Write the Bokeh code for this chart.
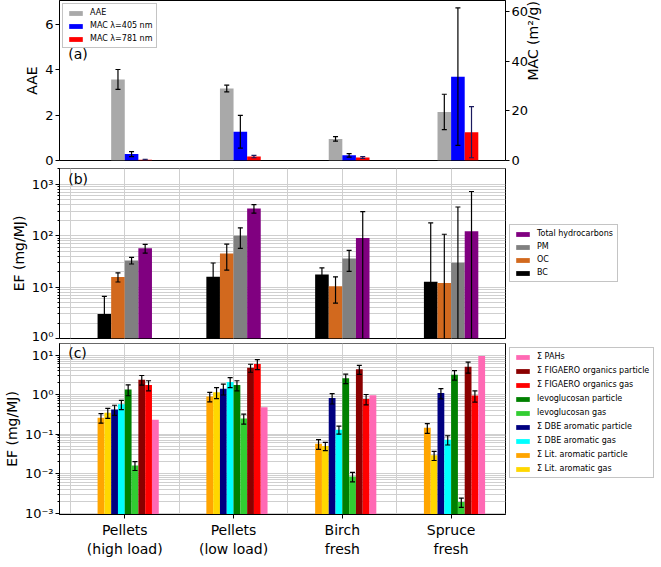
import math
from bokeh.plotting import figure
from bokeh.models import (Range1d, LinearAxis, FixedTicker, Legend, LegendItem, Label)
from bokeh.layouts import column
from bokeh.embed import file_html
from bokeh.resources import INLINE

# ---------------- data ----------------
categories = ["Pellets\n(high load)", "Pellets\n(low load)", "Birch\nfresh", "Spruce\nfresh"]
cat_x = [1, 2, 3, 4]

# panel (a)
aae = [3.57, 3.17, 0.95, 2.14]
aae_err = [0.44, 0.15, 0.10, 0.78]
mac405 = [2.6, 11.6, 2.1, 33.8]
mac405_err = [1.0, 6.6, 0.7, 27.7]
mac781 = [0.35, 1.6, 1.2, 11.4]
mac781_err = [0.15, 0.5, 0.4, 10.3]

# panel (b)
bc = [3.0, 16.0, 17.7, 12.7]
bc_err = [3.6, 13.5, 6.0, 165.0]
oc = [15.8, 45.0, 10.4, 12.0]
oc_err = [3.2, 23.5, 5.5, 95.0]
pm = [33.0, 100.0, 36.0, 30.0]
pm_err = [4.8, 43.0, 15.8, 333.0]
thc = [57.0, 340.0, 90.0, 123.0]
thc_err = [11.0, 65.0, 205.0, 605.0]

# panel (c)
lit_part = [0.26, 0.90, 0.057, 0.145]
lit_part_err = [0.07, 0.24, 0.016, 0.04]
lit_gas = [0.35, 1.15, 0.050, 0.029]
lit_gas_err = [0.10, 0.36, 0.012, 0.0075]
dbe_part = [0.42, 1.42, 0.82, 1.10]
dbe_part_err = [0.12, 0.44, 0.24, 0.32]
dbe_gas = [0.57, 2.10, 0.13, 0.072]
dbe_gas_err = [0.15, 0.60, 0.03, 0.019]
levo_part = [1.36, 1.75, 2.6, 3.2]
levo_part_err = [0.42, 0.50, 0.70, 0.85]
levo_gas = [0.016, 0.25, 0.0085, 0.0019]
levo_gas_err = [0.004, 0.07, 0.0023, 0.0005]
fig_part = [2.4, 4.8, 4.4, 5.1]
fig_part_err = [0.66, 1.1, 1.15, 1.6]
fig_gas = [1.75, 6.0, 0.78, 0.95]
fig_gas_err = [0.5, 1.7, 0.23, 0.3]
pahs = [0.23, 0.48, 0.97, 9.6]

FONT = "DejaVu Sans"
FRAME_W = 446
LEFT = 50
GRID_COLOR = "#cfcfcf"
CAP = 0.023


def style_axis(ax, size="13px"):
    ax.major_label_text_font = FONT
    ax.major_label_text_font_size = size
    ax.major_label_text_color = "black"
    ax.axis_label_text_font = FONT
    ax.axis_label_text_font_size = "14px"
    ax.axis_label_text_font_style = "normal"
    ax.axis_label_text_color = "black"
    ax.axis_line_color = "black"
    ax.major_tick_line_color = "black"
    ax.minor_tick_line_color = "black"
    ax.major_tick_out = 4
    ax.major_tick_in = 0
    ax.minor_tick_out = 2
    ax.minor_tick_in = 0
    ax.major_label_standoff = 2
    ax.axis_label_standoff = 2


def base_fig(h, bottom, **kw):
    p = figure(frame_width=FRAME_W, frame_height=h, x_range=Range1d(0.4, 4.5),
               output_backend="svg", toolbar_location=None,
               min_border_left=LEFT, min_border_top=0, min_border_bottom=bottom,
               min_border_right=0, **kw)
    p.outline_line_color = "black"
    p.outline_line_alpha = 1
    p.background_fill_color = "white"
    p.border_fill_color = "white"
    return p


def errorbars(p, xs, vals, errs, floor, color="black", y_range_name=None):
    x0, lo, hi = [], [], []
    for x, v, e in zip(xs, vals, errs):
        x0.append(x)
        lo.append(max(v - e, floor))
        hi.append(v + e)
    kw = {} if y_range_name is None else {"y_range_name": y_range_name}
    p.segment(x0=x0, y0=lo, x1=x0, y1=hi, line_color=color, line_width=1.2, **kw)
    xl = [x - CAP for x in x0]
    xr = [x + CAP for x in x0]
    p.segment(x0=xl, y0=hi, x1=xr, y1=hi, line_color=color, line_width=1.2, **kw)
    p.segment(x0=xl, y0=lo, x1=xr, y1=lo, line_color=color, line_width=1.2, **kw)


def make_legend(items, location, margin, spacing):
    lg = Legend(items=items, location=location)
    lg.label_text_font = FONT
    lg.label_text_font_size = "8px"
    lg.label_text_color = "black"
    lg.label_height = 8
    lg.glyph_width = 17
    lg.glyph_height = 6
    lg.label_standoff = 6
    lg.padding = 4
    lg.spacing = spacing
    lg.margin = margin
    lg.border_line_color = "#8a8a8a"
    lg.border_line_width = 1
    lg.background_fill_alpha = 0.9
    return lg


def panel_label(p, x, y, text):
    p.add_layout(Label(x=x, y=y, text=text, text_font=FONT, text_font_size="14px",
                       text_color="black", text_baseline="middle"))


# ---------------- panel (a) ----------------
pa = base_fig(160, 8, y_range=Range1d(0, 7.05))
pa.extra_y_ranges = {"mac": Range1d(0, 64.5)}
pa.xaxis.visible = False
pa.grid.visible = False
style_axis(pa.yaxis[0])
pa.yaxis[0].axis_label = "AAE"
pa.yaxis[0].ticker = FixedTicker(ticks=[0, 2, 4, 6])
pa.yaxis[0].minor_tick_out = 0
rax = LinearAxis(y_range_name="mac", axis_label="MAC (m²/g)",
                 ticker=FixedTicker(ticks=[0, 20, 40, 60]))
style_axis(rax)
rax.minor_tick_out = 0
rax.axis_label_orientation = math.pi / 2
pa.add_layout(rax, "right")

wa = 0.125
xa_aae = [x - 0.5 * wa for x in cat_x]
xa_405 = [x + 0.5 * wa for x in cat_x]
xa_781 = [x + 1.5 * wa for x in cat_x]
r_aae = pa.vbar(x=xa_aae, top=aae, width=wa, fill_color="#a9a9a9", line_color=None)
r_405 = pa.vbar(x=xa_405, top=mac405, width=wa, fill_color="#0000ff", line_color=None, y_range_name="mac")
r_781 = pa.vbar(x=xa_781, top=mac781, width=wa, fill_color="#ff0000", line_color=None, y_range_name="mac")
errorbars(pa, xa_aae, aae, aae_err, 0)
errorbars(pa, xa_405, mac405, mac405_err, 0, y_range_name="mac")
errorbars(pa, xa_781, mac781, mac781_err, 0, color="#1a1a5e", y_range_name="mac")
lga = make_legend([LegendItem(label="AAE", renderers=[r_aae]),
                   LegendItem(label="MAC λ=405 nm", renderers=[r_405]),
                   LegendItem(label="MAC λ=781 nm", renderers=[r_781])], "top_left", 3, 4)
pa.add_layout(lga)
panel_label(pa, 0.48, 4.7, "(a)")

# ---------------- panel (b) ----------------
pb = base_fig(170, 5, y_range=Range1d(1, 2040), y_axis_type="log")
pb.xaxis.visible = False
style_axis(pb.yaxis[0])
pb.yaxis[0].axis_label = "EF (mg/MJ)"
b_major = [1, 10, 100, 1000]
b_minor = [m * 10 ** e for e in range(0, 4) for m in range(2, 10)]
pb.yaxis[0].ticker = FixedTicker(ticks=b_major, minor_ticks=b_minor)
pb.yaxis[0].major_label_overrides = {1: "10⁰", 10: "10¹", 100: "10²", 1000: "10³"}
pb.ygrid.ticker = FixedTicker(ticks=b_major, minor_ticks=b_minor)
pb.ygrid.grid_line_color = GRID_COLOR
pb.ygrid.minor_grid_line_color = GRID_COLOR
pb.xgrid.ticker = FixedTicker(ticks=[0.5, 1, 1.5, 2, 2.5, 3, 3.5, 4])
pb.xgrid.grid_line_color = GRID_COLOR

wb = 0.125
b_series = [("BC", bc, bc_err, "#000000"), ("OC", oc, oc_err, "#d2691e"),
            ("PM", pm, pm_err, "#808080"), ("Total hydrocarbons", thc, thc_err, "#800080")]
b_items = {}
for i, (name, vals, errs, col) in enumerate(b_series):
    xs = [x + (i - 1.5) * wb for x in cat_x]
    r = pb.vbar(x=xs, top=vals, bottom=0.01, width=wb, fill_color=col, line_color=None)
    b_items[name] = LegendItem(label=name, renderers=[r])
for i, (name, vals, errs, col) in enumerate(b_series):
    xs = [x + (i - 1.5) * wb for x in cat_x]
    errorbars(pb, xs, vals, errs, 1e-6)
b_order = ["Total hydrocarbons", "PM", "OC", "BC"]
lgb = make_legend([b_items[n] for n in b_order], "center_left", 4, 4)
pb.add_layout(lgb, "right")
panel_label(pb, 0.48, 1300, "(b)")

# ---------------- panel (c) ----------------
pc = base_fig(171, 0, y_range=Range1d(9.2e-4, 19.8), y_axis_type="log")
style_axis(pc.yaxis[0])
pc.yaxis[0].axis_label = "EF (mg/MJ)"
c_major = [0.001, 0.01, 0.1, 1, 10]
c_minor = [m * 10.0 ** e for e in range(-4, 2) for m in range(2, 10)]
pc.yaxis[0].ticker = FixedTicker(ticks=c_major, minor_ticks=c_minor)
pc.yaxis[0].major_label_overrides = {0.001: "10⁻³", 0.01: "10⁻²", 0.1: "10⁻¹", 1: "10⁰", 10: "10¹"}
pc.ygrid.ticker = FixedTicker(ticks=c_major, minor_ticks=c_minor)
pc.ygrid.grid_line_color = GRID_COLOR
pc.ygrid.minor_grid_line_color = GRID_COLOR
pc.xgrid.ticker = FixedTicker(ticks=[0.5, 1, 1.5, 2, 2.5, 3, 3.5, 4])
pc.xgrid.grid_line_color = GRID_COLOR
style_axis(pc.xaxis[0], size="14px")
pc.xaxis[0].ticker = FixedTicker(ticks=cat_x)
pc.xaxis[0].major_label_overrides = {x: c for x, c in zip(cat_x, categories)}
pc.xaxis[0].major_label_standoff = 3
pc.xaxis[0].minor_tick_out = 0

wc = 0.0625
c_series = [("Σ Lit. aromatic particle", lit_part, lit_part_err, "#ffa500"),
            ("Σ Lit. aromatic gas", lit_gas, lit_gas_err, "#ffd700"),
            ("Σ DBE aromatic particle", dbe_part, dbe_part_err, "#000080"),
            ("Σ DBE aromatic gas", dbe_gas, dbe_gas_err, "#00ffff"),
            ("levoglucosan particle", levo_part, levo_part_err, "#008000"),
            ("levoglucosan gas", levo_gas, levo_gas_err, "#32cd32"),
            ("Σ FIGAERO organics particle", fig_part, fig_part_err, "#8b0000"),
            ("Σ FIGAERO organics gas", fig_gas, fig_gas_err, "#ff0000"),
            ("Σ PAHs", pahs, None, "#ff69b4")]
c_items = {}
for i, (name, vals, errs, col) in enumerate(c_series):
    xs = [x + (i - 3.5) * wc for x in cat_x]
    r = pc.vbar(x=xs, top=vals, bottom=1e-5, width=wc, fill_color=col, line_color=None)
    c_items[name] = LegendItem(label=name, renderers=[r])
for i, (name, vals, errs, col) in enumerate(c_series):
    if errs is None:
        continue
    xs = [x + (i - 3.5) * wc for x in cat_x]
    errorbars(pc, xs, vals, errs, 1e-7)
c_order = ["Σ PAHs", "Σ FIGAERO organics particle", "Σ FIGAERO organics gas",
           "levoglucosan particle", "levoglucosan gas", "Σ DBE aromatic particle",
           "Σ DBE aromatic gas", "Σ Lit. aromatic particle", "Σ Lit. aromatic gas"]
lgc = make_legend([c_items[n] for n in c_order], "top_left", 4, 5)
pc.add_layout(lgc, "right")
panel_label(pc, 0.48, 11.2, "(c)")

layout = column(pa, pb, pc)
open("out.html", "w").write(file_html(layout, INLINE))
